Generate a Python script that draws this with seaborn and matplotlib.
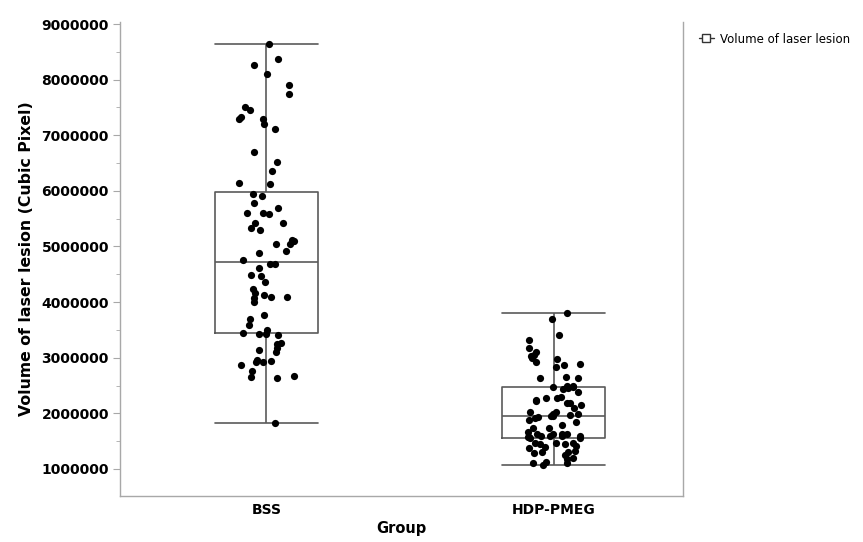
import numpy as np
import pandas as pd
import seaborn as sns
import matplotlib.pyplot as plt
from matplotlib.lines import Line2D
from matplotlib.ticker import MultipleLocator, FuncFormatter

groups = ["BSS", "HDP-PMEG"]

# values (cubic pixel, in millions)
bss = [8.64, 8.37, 8.26, 8.11, 7.90, 7.74, 7.50, 7.45, 7.33, 7.30, 7.30, 7.20, 7.12,
       6.70, 6.52, 6.36, 6.15, 6.12, 5.94, 5.91, 5.78, 5.70, 5.61, 5.60, 5.58,
       5.43, 5.43, 5.33, 5.30,
       5.11, 5.10, 5.05, 5.04, 4.92, 4.88, 4.75, 4.69, 4.68, 4.61, 4.49, 4.47,
       4.37, 4.23, 4.16, 4.13, 4.10, 4.09, 4.07, 4.01, 3.77, 3.69, 3.59,
       3.50, 3.45, 3.42, 3.42, 3.41, 3.26, 3.24, 3.17, 3.14, 3.11,
       2.96, 2.94, 2.93, 2.93, 2.87, 2.77, 2.67, 2.66, 2.63, 1.83]
hdp = [3.80, 3.69, 3.41, 3.32, 3.17, 3.11, 3.05, 3.04, 3.00, 2.97, 2.92, 2.88,
       2.87, 2.83, 2.66, 2.64, 2.63,
       2.50, 2.49, 2.48, 2.47, 2.46, 2.44,
       2.39, 2.30, 2.28, 2.27, 2.24, 2.22, 2.19, 2.18, 2.15, 2.10, 2.03,
       2.03, 1.99, 1.98, 1.97, 1.96, 1.95, 1.94, 1.92,
       1.88, 1.84, 1.79, 1.73, 1.73, 1.67,
       1.63, 1.63, 1.62, 1.62, 1.60, 1.60, 1.60, 1.59, 1.58, 1.57, 1.55, 1.55,
       1.47, 1.47, 1.46, 1.45, 1.44, 1.42,
       1.39, 1.38, 1.32, 1.31, 1.30, 1.29, 1.25, 1.19, 1.18, 1.12, 1.11, 1.10, 1.08]

df = pd.DataFrame({
    "Group": [groups[0]] * len(bss) + [groups[1]] * len(hdp),
    "Volume": np.array(bss + hdp) * 1e6,
})

sns.set_style("ticks")
plt.rcParams["font.family"] = ["DejaVu Sans"]
plt.rcParams["text.color"] = "black"
plt.rcParams["axes.labelcolor"] = "black"
plt.rcParams["xtick.labelcolor"] = "black"
plt.rcParams["ytick.labelcolor"] = "black"

fig = plt.figure(figsize=(8.63, 5.42), dpi=100)
ax = fig.add_axes([120 / 863, 1 - 496 / 542, (683 - 120) / 863, (496 - 22) / 542])

gray = "#5a5a5a"
sns.boxplot(data=df, x="Group", y="Volume", order=groups, ax=ax, whis=(0, 100),
            width=0.36, fill=False, color=gray, linewidth=1.2,
            capwidths=0.36, showfliers=False)

np.random.seed(3)
sns.stripplot(data=df, x="Group", y="Volume", order=groups, ax=ax,
              color="black", size=5.2, jitter=0.1, zorder=5)

ax.set_xlim(-0.51, 1.45)
ax.set_ylim(0.514e6, 9.036e6)
ax.yaxis.set_major_locator(MultipleLocator(1e6))
ax.yaxis.set_minor_locator(MultipleLocator(5e5))
ax.yaxis.set_major_formatter(FuncFormatter(lambda v, p: f"{v:.0f}"))

for side in ["left", "bottom", "right"]:
    ax.spines[side].set_color("#a8a8a8")
    ax.spines[side].set_linewidth(1.0)
ax.spines["top"].set_visible(False)

ax.tick_params(axis="y", which="major", length=5, color="#a8a8a8", pad=3,
               labelsize=10)
ax.tick_params(axis="y", which="minor", length=3, color="#a8a8a8")
ax.tick_params(axis="x", length=0, pad=5, labelsize=10)
for lab in ax.get_xticklabels() + ax.get_yticklabels():
    lab.set_fontweight("bold")

ax.set_xlabel("Group", fontsize=10.5, fontweight="bold", labelpad=3)
ax.set_ylabel("Volume of laser lesion (Cubic Pixel)", fontsize=11.3,
              fontweight="bold", labelpad=5)

icon = Line2D([], [], color="#333333", lw=1, marker="s", markersize=6,
              markerfacecolor="white", markeredgecolor="#333333")
fig.legend(handles=[icon], labels=["Volume of laser lesion"], loc="upper left",
           bbox_to_anchor=(688 / 863, 1 - 22 / 542), frameon=False,
           fontsize=8.5, handlelength=1.3, handletextpad=0.5)

fig.savefig("out.png", dpi=100)
